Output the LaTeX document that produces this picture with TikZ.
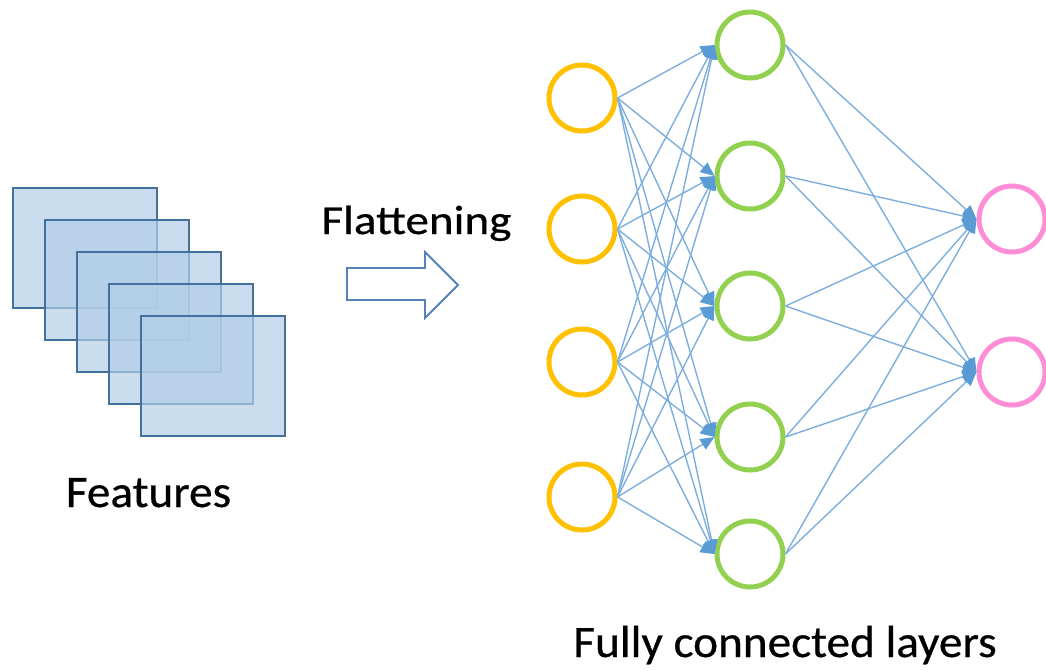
\documentclass[tikz,border=0pt]{standalone}
\usepackage{fontspec}
\setmainfont{Carlito}
\newfontfamily\labelfont[FakeStretch=1.05,FakeBold=0.6]{Carlito}
\newfontfamily\flatfont[FakeStretch=1.15,FakeBold=0.6]{Carlito}
\usetikzlibrary{arrows.meta}
\definecolor{mapfill}{RGB}{178,206,231}
\definecolor{mapedge}{RGB}{65,113,156}
\definecolor{arrowedge}{RGB}{84,130,186}
\definecolor{inorange}{RGB}{255,192,0}
\definecolor{hidgreen}{RGB}{146,208,80}
\definecolor{outpink}{RGB}{255,140,215}
\definecolor{wire}{RGB}{125,174,222}
\definecolor{tipblue}{RGB}{91,155,213}
\tikzset{
  fmap/.style={draw=mapedge, line width=2.8pt, fill=mapfill, fill opacity=0.7},
  neuron/.style={circle, draw=#1, line width=5pt, minimum size=66pt, inner sep=0pt, fill=white},
  wirestyle/.style={draw=wire, line width=1.4pt,
    -{Triangle[length=14pt, width=12pt, color=tipblue]}},
  caption/.style={anchor=base, inner sep=0pt},
}
\begin{document}
\begin{tikzpicture}[x=1pt, y=-1pt]
\useasboundingbox (0,0) rectangle (1046,670);

% stack of feature maps
\foreach \k in {0,...,4}{
  \draw[fmap] ({13+32*\k},{188+32*\k}) rectangle ++(144,120);
}
\node[caption] (feat) at (148.5,507) {\labelfont\fontsize{45}{54}\selectfont Features};

% flattening block arrow
\node[caption] (flat) at (416.5,234) {\flatfont\fontsize{41}{49}\selectfont Flattening};
\draw[draw=arrowedge, line width=1.8pt, fill=white, line join=miter]
  (347,268) -- (425,268) -- (425,252) -- (458,285) -- (425,318) -- (425,300) -- (347,300) -- cycle;

% neurons
\foreach \i/\y in {1/98,2/229,3/362,4/497}{
  \node[neuron=inorange] (a\i) at (582,\y) {};
}
\foreach \j/\y in {1/45,2/176,3/306,4/437,5/554}{
  \node[neuron=hidgreen] (b\j) at (750,\y) {};
}
\foreach \k/\y in {1/219,2/372}{
  \node[neuron=outpink] (c\k) at (1012,\y) {};
}

% connections
\foreach \i in {1,...,4}{
  \foreach \j in {1,...,5}{
    \draw[wirestyle] (a\i.east) -- (b\j.west);
  }
}
\foreach \j in {1,...,5}{
  \foreach \k in {1,2}{
    \draw[wirestyle] (b\j.east) -- (c\k.west);
  }
}

\node[caption] (fc) at (785,657) {\labelfont\fontsize{45}{54}\selectfont Fully connected layers};
\end{tikzpicture}
\end{document}
